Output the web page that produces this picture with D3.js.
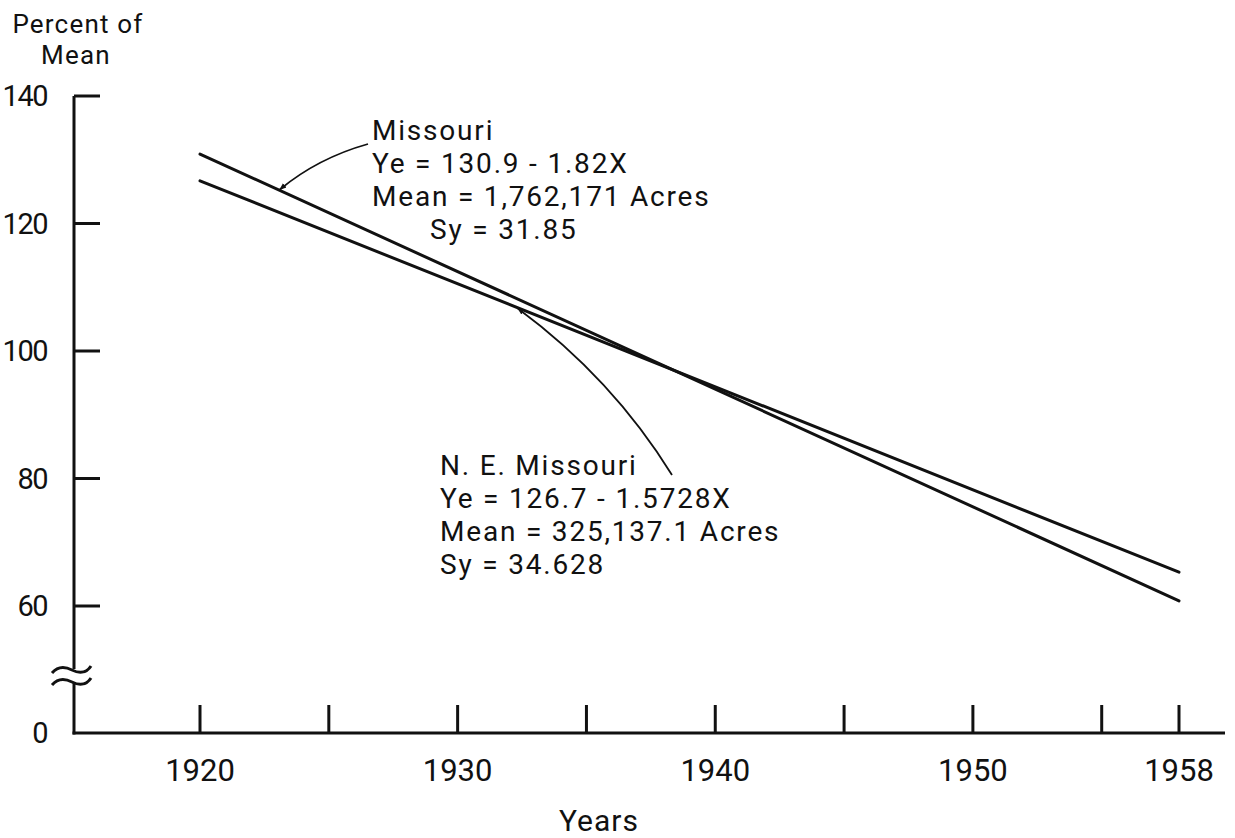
<!DOCTYPE html>
<html>
<head>
<meta charset="utf-8">
<script src="https://cdn.jsdelivr.net/npm/d3@7/dist/d3.min.js"></script>
<style>
  html, body { margin: 0; padding: 0; background: #fff; }
  svg { display: block; }
  text { font-family: Roboto, "Liberation Sans", sans-serif; fill: #111; }
</style>
</head>
<body>
<svg id="chart" width="1235" height="838"></svg>
<script>
// Trend lines, in percent of mean, at the two end years
const years = [1920, 1958];
const missouri = [130.9, 60.8];
const neMissouri = [126.7, 65.3];

// Axis ticks
const xTicks = [1920, 1925, 1930, 1935, 1940, 1945, 1950, 1955, 1958];
const xTickLabels = [1920, 1930, 1940, 1950, 1958];
const yTicks = [140, 120, 100, 80, 60];

// Annotation text
const missouriNote = ["Missouri", "Ye = 130.9 - 1.82X", "Mean = 1,762,171 Acres", "Sy = 31.85"];
const neNote = ["N. E. Missouri", "Ye = 126.7 - 1.5728X", "Mean = 325,137.1 Acres", "Sy = 34.628"];

const svg = d3.select("#chart");
const ink = "#111";

const x = d3.scaleLinear().domain([1920, 1958]).range([200, 1179]);
// broken axis: 0..50 is squeezed below the break, 50..140 is linear
const y = d3.scaleLinear().domain([0, 50, 140]).range([733, 669.75, 96]);

const axisX = 74;
const baseY = y(0);

// arrowhead marker
svg.append("defs").append("marker")
  .attr("id", "arrow")
  .attr("viewBox", "0 0 10 10")
  .attr("refX", 9).attr("refY", 5)
  .attr("markerWidth", 7).attr("markerHeight", 7)
  .attr("markerUnits", "userSpaceOnUse")
  .attr("orient", "auto")
  .append("path")
  .attr("d", "M0,1 L10,5 L0,9 Z")
  .attr("fill", ink);

const g = svg.append("g");

// y axis line with break
g.append("line")
  .attr("x1", axisX).attr("x2", axisX)
  .attr("y1", y(140)).attr("y2", 669)
  .attr("stroke", ink).attr("stroke-width", 3);
g.append("line")
  .attr("x1", axisX).attr("x2", axisX)
  .attr("y1", 683).attr("y2", baseY + 1.5)
  .attr("stroke", ink).attr("stroke-width", 3);

// break marks
[669, 681].forEach(cy => {
  g.append("path")
    .attr("d", `M52,${cy + 4} C58,${cy - 3} 66,${cy - 2} 72,${cy + 1} S86,${cy + 5} 91,${cy - 3}`)
    .attr("fill", "none").attr("stroke", ink).attr("stroke-width", 3);
});

// y ticks and labels
g.selectAll(".ytick").data(yTicks).enter().append("line")
  .attr("x1", axisX).attr("x2", axisX + 26)
  .attr("y1", d => y(d)).attr("y2", d => y(d))
  .attr("stroke", ink).attr("stroke-width", 3);
g.selectAll(".ylab").data(yTicks.concat([0])).enter().append("text")
  .attr("x", 47).attr("y", d => y(d))
  .attr("dy", "0.36em")
  .attr("text-anchor", "end")
  .attr("font-size", 29)
  .attr("letter-spacing", -1.5)
  .text(d => d);

// x axis line
g.append("line")
  .attr("x1", axisX - 1.5).attr("x2", 1225)
  .attr("y1", baseY).attr("y2", baseY)
  .attr("stroke", ink).attr("stroke-width", 3);

// x ticks and labels
g.selectAll(".xtick").data(xTicks).enter().append("line")
  .attr("x1", d => x(d)).attr("x2", d => x(d))
  .attr("y1", baseY).attr("y2", baseY - 28)
  .attr("stroke", ink).attr("stroke-width", 3);
g.selectAll(".xlab").data(xTickLabels).enter().append("text")
  .attr("x", d => x(d)).attr("y", 781)
  .attr("text-anchor", "middle")
  .attr("font-size", 31)
  .text(d => d);

// axis titles
g.append("text").attr("x", 78).attr("y", 33)
  .attr("text-anchor", "middle").attr("font-size", 26).attr("letter-spacing", 1.2).text("Percent of");
g.append("text").attr("x", 76).attr("y", 64)
  .attr("text-anchor", "middle").attr("font-size", 26).attr("letter-spacing", 1.2).text("Mean");
g.append("text").attr("x", 599).attr("y", 831)
  .attr("text-anchor", "middle").attr("font-size", 30).attr("letter-spacing", 1).text("Years");

// trend lines
const line = d3.line().x(d => x(d[0])).y(d => y(d[1]));
[missouri, neMissouri].forEach(vals => {
  g.append("path")
    .datum(years.map((yr, i) => [yr, vals[i]]))
    .attr("d", line)
    .attr("fill", "none")
    .attr("stroke", ink)
    .attr("stroke-width", 3)
    .attr("stroke-linecap", "round");
});

// annotation blocks
function note(lines, x0, y0, indents) {
  lines.forEach((t, i) => {
    g.append("text")
      .attr("x", x0 + (indents[i] || 0))
      .attr("y", y0 + i * 33)
      .attr("font-size", 28)
      .attr("letter-spacing", 1.8)
      .text(t);
  });
}
note(missouriNote, 372, 140, [0, 0, 0, 58]);
note(neNote, 440, 475, [0, 0, 0, 0]);

// pointer to the Missouri line
const mTipX = 1923.1;
const mTip = [x(mTipX), y(missouri[0] + (missouri[1] - missouri[0]) * (mTipX - 1920) / 38)];
g.append("path")
  .attr("d", `M368,144 Q318,158 ${mTip[0]},${mTip[1] - 1}`)
  .attr("fill", "none").attr("stroke", ink).attr("stroke-width", 1.8)
  .attr("marker-end", "url(#arrow)");

// pointer to the N. E. Missouri line
const nTipX = 1932.3;
const nTip = [x(nTipX), y(neMissouri[0] + (neMissouri[1] - neMissouri[0]) * (nTipX - 1920) / 38)];
g.append("path")
  .attr("d", `M672,475 Q612,378 ${nTip[0] + 1},${nTip[1] + 1}`)
  .attr("fill", "none").attr("stroke", ink).attr("stroke-width", 1.8)
  .attr("marker-end", "url(#arrow)");
</script>
</body>
</html>
